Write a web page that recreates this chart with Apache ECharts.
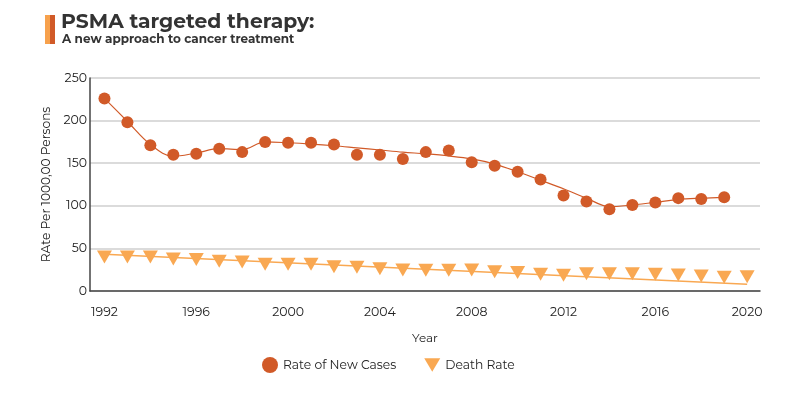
<!DOCTYPE html>
<html><head><meta charset="utf-8">
<script src="https://cdn.jsdelivr.net/npm/echarts@6/dist/echarts.min.js"></script>
<style>html,body{margin:0;padding:0;background:#fff}#c{width:800px;height:400px}</style>
</head><body><div id="c"></div>
<script>
const years = [1992,1993,1994,1995,1996,1997,1998,1999,2000,2001,2002,2003,2004,2005,2006,2007,2008,2009,2010,2011,2012,2013,2014,2015,2016,2017,2018,2019,2020];
const newCases = [226,198,171,160,161,167,163,175,174,174,172,160,160,155,163,165,151,147,140,131,112,105,96,101,104,109,108,110,null];
const newCasesTrend = [226,199,172,158,162,167,166,175,174,172.5,170.5,168,165.5,163,161,158.5,155,149,140,130,120,109,99,101,104,107.5,109,110,null];
const deathRate = [40,40,40,37.5,37,35,34,31.5,31.5,31.5,28.6,27.8,26.2,24.6,24.3,24.3,24.6,22.7,21.8,19.6,18.4,20.3,20.3,20.3,19.6,18.8,17.6,16,16.8];
const deathTrendYears = [1992,2020];
const deathTrend = [43,8];
const xTicks = [1992,1996,2000,2004,2008,2012,2016,2020];
const yTicks = [0,50,100,150,200,250];

const dark = '#D15A28', light = '#F9A852';
const font = 'Montserrat, "Open Sans", sans-serif';
const tri = 'path://M0,0L10,0L5,8.5Z';
const chart = echarts.init(document.getElementById('c'));
chart.setOption({
  animation:false,
  textStyle:{fontFamily:font},
  graphic:[
    {type:'rect',shape:{x:45,y:15,width:5,height:29},style:{fill:'#F7A14C'}},
    {type:'rect',shape:{x:50,y:15,width:5,height:29},style:{fill:'#D15A28'}},
    {type:'text',left:61,top:12,style:{text:'PSMA targeted therapy:',fontFamily:font,fontWeight:'bold',fontSize:20.3,fill:'#333'}},
    {type:'text',left:62,top:33,style:{text:'A new approach to cancer treatment',fontFamily:font,fontWeight:'bold',fontSize:12,fill:'#333'}}
  ],
  grid:{left:90,right:40,top:78,bottom:109},
  legend:{bottom:22,left:257,itemGap:28,itemWidth:16,itemHeight:16,
    textStyle:{fontSize:12.3,color:'#222',fontFamily:font},
    data:[{name:'Rate of New Cases',icon:'circle'},{name:'Death Rate',icon:tri}]},
  xAxis:{type:'value',min:1991.37,max:2020.56,name:'Year',nameLocation:'middle',nameGap:41,
    nameTextStyle:{fontSize:12,color:'#222'},
    axisLine:{lineStyle:{color:'#444',width:1.5}},axisTick:{show:false},splitLine:{show:false},
    axisLabel:{customValues:xTicks,fontSize:12.5,color:'#222',margin:15,formatter:v=>String(v)}},
  yAxis:{type:'value',min:0,max:250,interval:50,name:'RAte Per 1000,00 Persons',nameLocation:'middle',nameGap:27,
    nameTextStyle:{fontSize:12.2,color:'#222'},
    axisLine:{show:true,lineStyle:{color:'#444',width:1.5}},axisTick:{show:false},
    splitLine:{lineStyle:{color:'#cfcfcf',width:1.5}},
    axisLabel:{fontSize:12.5,color:'#222',margin:3}},
  series:[
    {name:'trend1',type:'line',smooth:0.35,symbol:'none',z:1,lineStyle:{color:dark,width:1.2},
      data:years.map((y,i)=>[y,newCasesTrend[i]]).filter(d=>d[1]!=null)},
    {name:'trend2',type:'line',symbol:'none',z:1,lineStyle:{color:light,width:1.5},
      data:deathTrendYears.map((y,i)=>[y,deathTrend[i]])},
    {name:'Rate of New Cases',type:'scatter',symbol:'circle',symbolSize:12,z:3,itemStyle:{color:dark,opacity:1},
      data:years.map((y,i)=>[y,newCases[i]]).filter(d=>d[1]!=null)},
    {name:'Death Rate',type:'scatter',symbol:tri,symbolSize:[15,13],z:3,itemStyle:{color:light,opacity:1},
      data:years.map((y,i)=>[y,deathRate[i]])}
  ]
});
</script></body></html>
